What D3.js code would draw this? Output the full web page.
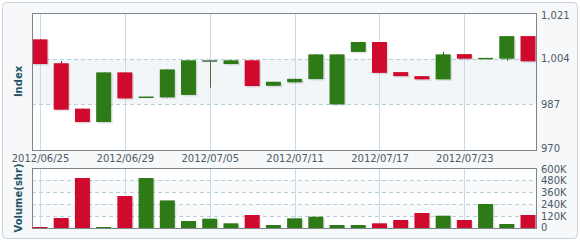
<!DOCTYPE html>
<html><head><meta charset="utf-8">
<script src="https://cdn.jsdelivr.net/npm/d3@7"></script>
<style>html,body{margin:0;padding:0;background:#fff;}svg{display:block;font-family:"DejaVu Sans",Verdana,sans-serif;}</style>
</head><body><svg id="c" width="580" height="242"></svg>
<script>
const dates = ["2012/06/25","2012/06/26","2012/06/27","2012/06/28","2012/06/29","2012/07/02","2012/07/03","2012/07/04","2012/07/05","2012/07/06","2012/07/09","2012/07/10","2012/07/11","2012/07/12","2012/07/13","2012/07/16","2012/07/17","2012/07/18","2012/07/19","2012/07/20","2012/07/23","2012/07/24","2012/07/25","2012/07/26"];
const open  = [1011.2,1002.3,985.4,980.4,998.9,989.7,989.6,990.5,1003.3,1002.0,1003.4,993.9,995.2,996.4,987.0,1006.5,1010.2,999.0,997.5,996.3,1005.7,1004.1,1004.0,1012.4];
const high  = [1011.2,1003.1,985.4,998.9,998.9,989.9,1000.0,1003.4,1003.4,1003.4,1003.4,995.4,996.5,1005.6,1005.6,1010.2,1010.2,999.0,997.5,1006.6,1005.7,1004.3,1012.4,1012.4];
const low   = [1002.0,985.0,980.4,980.4,989.2,989.7,989.6,990.5,993.2,1002.0,993.8,993.9,995.2,996.4,987.0,1006.5,998.7,997.5,996.3,996.3,1004.0,1004.1,1003.2,1003.0];
const close = [1002.0,985.0,980.4,998.9,989.2,989.9,1000.0,1003.4,1003.4,1003.4,993.8,995.4,996.5,1005.6,1005.6,1010.2,998.7,997.5,996.3,1005.6,1004.0,1004.3,1012.4,1003.0];
const volume = [10000,100000,500000,10000,320000,500000,276000,70000,93000,47000,130000,30000,97000,113000,30000,30000,47000,80000,150000,123000,80000,240000,40000,130000];
const priceTicks = [970,987,1004,1021];
const volTicks = [0,120000,240000,360000,480000,600000];
const volTickLabels = ["0","120K","240K","360K","480K","600K"];
const dateTicks = ["2012/06/25","2012/06/29","2012/07/05","2012/07/11","2012/07/17","2012/07/23"];

const RED = "#cf0a2c", GREEN = "#2d7a16", DOJI = "#4f6a45";
const svg = d3.select("#c");
const L = 32, R = 536, T1 = 13, B1 = 150, T2 = 168, B2 = 228;

// outer frame
svg.append("rect").attr("x",2.5).attr("y",2.5).attr("width",575).attr("height",236).attr("rx",4)
  .attr("fill","#f6f8f9").attr("stroke","#c9d0d6");

const x = d3.scalePoint().domain(dates).range([L,R]).padding(0.377);
const y = d3.scaleLinear().domain([970,1021]).range([B1,T1]);
const yv = d3.scaleLinear().domain([0,600000]).range([B2,T2]);
const bw = 15;

function panel(top,bottom){
  svg.append("rect").attr("x",L+0.5).attr("y",top+0.5).attr("width",R-L).attr("height",bottom-top)
    .attr("fill","#ffffff");
}
panel(T1,B1); panel(T2,B2);
// band shading
svg.append("rect").attr("x",L+1).attr("y",y(1004)).attr("width",R-L-1).attr("height",y(987)-y(1004)).attr("fill","#f2f6f8");
svg.append("rect").attr("x",L+1).attr("y",yv(480000)).attr("width",R-L-1).attr("height",yv(360000)-yv(480000)).attr("fill","#f7f9fa");
svg.append("rect").attr("x",L+1).attr("y",yv(240000)).attr("width",R-L-1).attr("height",yv(120000)-yv(240000)).attr("fill","#f7f9fa");

// vertical grid
dateTicks.forEach(d=>{
  const xx = Math.round(x(d))+0.5;
  [[T1,B1],[T2,B2]].forEach(([a,b])=>svg.append("line").attr("x1",xx).attr("x2",xx).attr("y1",a).attr("y2",b).attr("stroke","#c7dce5"));
});
// horizontal dashed grid
priceTicks.slice(1,-1).forEach(v=>{
  const yy = Math.round(y(v))+0.5;
  svg.append("line").attr("x1",L).attr("x2",R).attr("y1",yy).attr("y2",yy).attr("stroke","#b9d0db").attr("stroke-dasharray","4,3");
});
volTicks.slice(1,-1).forEach(v=>{
  const yy = Math.round(yv(v))+0.5;
  svg.append("line").attr("x1",L).attr("x2",R).attr("y1",yy).attr("y2",yy).attr("stroke","#b9d0db").attr("stroke-dasharray","4,3");
});

const data = dates.map((d,i)=>({d,o:open[i],h:high[i],l:low[i],c:close[i],v:volume[i]}));
const col = k => k.c>k.o ? GREEN : (k.c<k.o ? RED : DOJI);

// candles
const g = svg.append("g");
data.forEach((k,i)=>{
  const cx = x(k.d);
  const c = (i===8) ? DOJI : col(k);
  const top = y(Math.max(k.o,k.c)), bot = y(Math.min(k.o,k.c));
  const h = Math.max(bot-top, 1.5);
  g.append("line").attr("x1",Math.round(cx)+0.5).attr("x2",Math.round(cx)+0.5).attr("y1",y(k.h)).attr("y2",y(k.l)).attr("stroke",c).attr("stroke-width",1);
  if (h > 2) g.append("rect").attr("x",cx-bw/2+1.5).attr("y",top+1.5).attr("width",bw).attr("height",h).attr("fill","#000").attr("opacity",0.1);
  g.append("rect").attr("x",cx-bw/2).attr("y",top).attr("width",bw).attr("height",h).attr("fill",c);
});
// volume bars
data.forEach((k,i)=>{
  const cx = x(k.d);
  const c = (i===8) ? GREEN : col(k);
  const top = yv(k.v);
  g.append("rect").attr("x",cx-bw/2+1.5).attr("y",top+1.5).attr("width",bw).attr("height",B2-top-1).attr("fill","#000").attr("opacity",0.1);
  g.append("rect").attr("x",cx-bw/2).attr("y",top).attr("width",bw).attr("height",B2-top).attr("fill",c);
});

// panel borders
[[T1,B1],[T2,B2]].forEach(([a,b])=>{
  svg.append("rect").attr("x",L+0.5).attr("y",a+0.5).attr("width",R-L).attr("height",b-a).attr("fill","none").attr("stroke","#7b858d");
});

// right axes
const fmt = d3.format(",");
const ay = d3.axisRight(y).tickValues(priceTicks).tickFormat(fmt).tickSize(0).tickPadding(5);
const ag = svg.append("g").attr("transform",`translate(${R},0)`).call(ay);
ag.select(".domain").remove();
ag.selectAll("text").attr("font-size",10).attr("fill","#4c5a66").attr("font-family","DejaVu Sans, Verdana, sans-serif");
ag.selectAll(".tick").filter(d=>d===1021).select("text").attr("dy","0.5em");
ag.selectAll(".tick").filter(d=>d===970).select("text").attr("dy","0.1em");

const av = d3.axisRight(yv).tickValues(volTicks).tickFormat((d,i)=>volTickLabels[i]).tickSize(0).tickPadding(5);
const avg = svg.append("g").attr("transform",`translate(${R},0)`).call(av);
avg.select(".domain").remove();
avg.selectAll("text").attr("font-size",10).attr("fill","#4c5a66").attr("font-family","DejaVu Sans, Verdana, sans-serif");
avg.selectAll(".tick").filter(d=>d===600000).select("text").attr("dy","0.45em");
avg.selectAll(".tick").filter(d=>d===0).select("text").attr("dy","0.2em");

// date axis between panels
const ax = d3.axisBottom(x).tickValues(dateTicks).tickSize(0).tickPadding(0);
const axg = svg.append("g").attr("transform",`translate(0,${B1+5})`).call(ax);
axg.select(".domain").remove();
axg.selectAll("text").attr("font-size",10).attr("fill","#4c5a66").attr("font-family","DejaVu Sans, Verdana, sans-serif");

// axis titles
svg.append("text").attr("transform",`translate(22,${(T1+B1)/2}) rotate(-90)`).attr("text-anchor","middle")
  .attr("font-size",10).attr("font-weight","bold").attr("fill","#235566").text("Index");
svg.append("text").attr("transform",`translate(22,${(T2+B2)/2}) rotate(-90)`).attr("text-anchor","middle")
  .attr("font-size",10).attr("font-weight","bold").attr("fill","#235566").text("Volume(shr)");
</script></body></html>
